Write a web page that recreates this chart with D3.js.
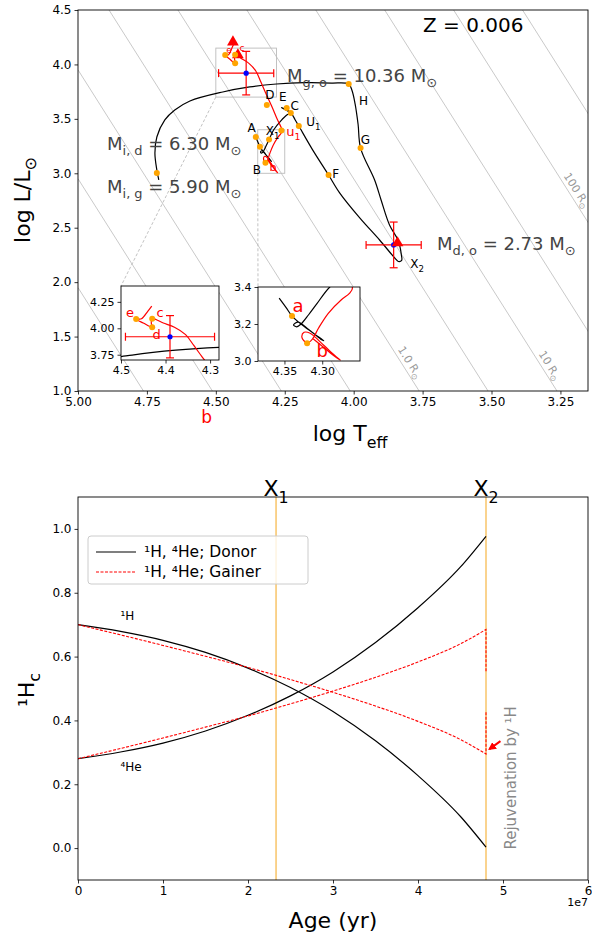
<!DOCTYPE html>
<html>
<head>
<meta charset="utf-8">
<script src="https://cdn.jsdelivr.net/npm/d3@7"></script>
<style>
body { margin: 0; background: #fff; }
svg { font-family: "DejaVu Sans", sans-serif; }
</style>
</head>
<body>
<div id="chart"></div>
<script>

// ---------------- HR diagram data ----------------
// donor track (black), log Teff / log L
const donorLogT = [4.357,4.348,4.340,4.325,4.310,4.298,4.302,4.318,4.332,4.338,4.334,4.328,4.318,4.307,4.290,4.265,4.240,4.228,4.250,4.262,4.226,4.212,4.199,4.150,4.091,4.051,3.978,3.906,3.851,3.838,3.826,3.827,3.838,3.870,3.900,3.924,3.975,3.984,3.995,4.006,4.018,4.080,4.180,4.280,4.377,4.475,4.594,4.649,4.685,4.714,4.721,4.714,4.707];
const donorLogL = [3.340,3.290,3.243,3.190,3.145,3.110,3.118,3.170,3.210,3.195,3.185,3.200,3.250,3.310,3.400,3.480,3.540,3.554,3.592,3.603,3.548,3.490,3.434,3.220,2.984,2.820,2.590,2.387,2.222,2.190,2.200,2.250,2.380,2.525,2.750,2.938,3.232,3.450,3.640,3.760,3.820,3.829,3.832,3.820,3.793,3.747,3.664,3.581,3.490,3.333,3.186,3.030,2.940];

// gainer track (red)
const gainerLogT = [4.313,4.300,4.285,4.276,4.282,4.298,4.316,4.324,4.327,4.322,4.320,4.313,4.305,4.292,4.275,4.264,4.260,4.278,4.298,4.318,4.337,4.355,4.380,4.405,4.430,4.432,4.430,4.450,4.466,4.454,4.440,4.431];
const gainerLogL = [3.123,3.080,3.030,3.005,3.025,3.085,3.150,3.155,3.130,3.100,3.096,3.118,3.177,3.258,3.330,3.365,3.395,3.500,3.620,3.730,3.840,3.940,4.010,4.050,4.090,4.050,4.010,4.050,4.087,4.090,4.160,4.210];

// orange points on the tracks (main panel)
const pointLogT = [4.355,4.340,4.307,4.315,4.243,4.228,4.199,4.091,3.975,4.018,4.714,4.262,4.320,4.430,4.430,4.466];
const pointLogL = [3.333,3.243,3.310,3.627,3.600,3.554,3.434,2.984,3.232,3.820,3.003,3.393,3.096,4.090,4.010,4.087];
// the few of them repeated in the zoom panels
const insetPointLogT = [4.340, 4.320, 4.430, 4.430, 4.466];
const insetPointLogL = [3.243, 3.096, 4.090, 4.010, 4.087];

// observations (blue) with errors, model positions (red triangles)
const obsLogT = [4.390, 3.855];
const obsLogL = [3.920, 2.342];
const obsErrT = [0.10, 0.10];
const obsErrL = [0.20, 0.21];
const modelLogT = [4.438, 4.420, 3.841];
const modelLogL = [4.206, 4.087, 2.360];

// constant radius lines, log R/Rsun
const radiusLogR = [-2, -1.5, -1, -0.5, 0, 0.5, 1, 1.5, 2, 2.5];
const radiusLabelLogR = [0, 1, 2];
const radiusLabelLogT = [3.819, 3.312, 3.214];
const radiusLabelText = ['1.0 R', '10 R', '100 R'];

const hrTicksX = [5.00, 4.75, 4.50, 4.25, 4.00, 3.75, 3.50, 3.25];
const hrTicksY = [1.0, 1.5, 2.0, 2.5, 3.0, 3.5, 4.0, 4.5];

// labels of points (main panel)
const blackLabels = [['A',4.370,3.416],['X','1',4.301,3.389],['B',4.351,3.030],['D',4.304,3.710],['E',4.257,3.692],['C',4.214,3.609],['U','1',4.154,3.471],['F',4.065,2.993],['G',3.957,3.297],['H',3.964,3.655],['X','2',3.777,2.167]];

// ---------------- abundance data ----------------
const ageYr = [0, 5e6, 1e7, 1.5e7, 2e7, 2.5e7, 3e7, 3.5e7, 4e7, 4.5e7, 4.8e7];
const donorH  = [0.700,0.679,0.651,0.613,0.564,0.503,0.428,0.336,0.227,0.099,0.003];
const donorHe = [0.280,0.301,0.329,0.367,0.416,0.477,0.552,0.644,0.753,0.881,0.977];
const gainerH  = [0.700,0.668,0.635,0.601,0.566,0.528,0.488,0.445,0.397,0.340,0.295];
const gainerHe = [0.280,0.312,0.345,0.379,0.414,0.452,0.492,0.535,0.583,0.640,0.685];
// gainer after the rejuvenation at X2
const rejuvH = 0.430;
const rejuvHe = 0.550;
const eventAgeYr = [2.33e7, 4.8e7];
const eventSub = ['1', '2'];
const ageTicks = [0, 1e7, 2e7, 3e7, 4e7, 5e7, 6e7];
const abTicks = [0.0, 0.2, 0.4, 0.6, 0.8, 1.0];


function createSVG(containerId, width, height) {
    try {
        return d3.select(containerId).append('svg')
            .attr('width', width).attr('height', height)
            .attr('viewBox', '0 0 ' + width + ' ' + height);
    } catch (error) {
        console.log('createSVG. Error: ' + error);
        return null;
    }
}

function zip(xs, ys) { return xs.map((x, i) => [x, ys[i]]); }

function addClip(svg, id, x0, y0, w, h) {
    svg.append('clipPath').attr('id', id)
        .append('rect').attr('x', x0).attr('y', y0).attr('width', w).attr('height', h);
}

function drawAxes(g, xs, ys, ticksX, ticksY, fmtX, fmtY, fontSize) {
    let [x0, x1] = xs.range();
    let [y0, y1] = ys.range();
    let ax = g.append('g').attr('transform', 'translate(0,' + y0 + ')')
        .call(d3.axisBottom(xs).tickValues(ticksX).tickFormat(fmtX).tickSize(3.5).tickPadding(3));
    let ay = g.append('g').attr('transform', 'translate(' + x0 + ',0)')
        .call(d3.axisLeft(ys).tickValues(ticksY).tickFormat(fmtY).tickSize(3.5).tickPadding(3));
    [ax, ay].forEach(a => {
        a.select('.domain').remove();
        a.attr('font-family', 'DejaVu Sans').attr('font-size', fontSize);
        a.selectAll('line').attr('stroke', '#000').attr('stroke-width', 0.8);
        a.selectAll('text').attr('fill', '#000');
    });
    g.append('rect').attr('x', Math.min(x0, x1)).attr('y', Math.min(y0, y1))
        .attr('width', Math.abs(x1 - x0)).attr('height', Math.abs(y1 - y0))
        .attr('fill', 'none').attr('stroke', '#000').attr('stroke-width', 0.9);
}

function subText(g, x, y, parts, size, color, anchor) {
    // parts: [text, isSub]
    let t = g.append('text').attr('x', x).attr('y', y).attr('font-size', size)
        .attr('fill', color).attr('text-anchor', anchor || 'start');
    let shift = 0;
    parts.forEach(p => {
        let dy = p[1] ? size * 0.3 - shift : -shift;
        shift = p[1] ? size * 0.3 : 0;
        t.append('tspan').attr('dy', dy).attr('font-size', p[1] ? size * 0.72 : size).text(p[0]);
    });
    return t;
}

function drawTracks(g, xs, ys, clipId) {
    let line = d3.line().curve(d3.curveCatmullRom.alpha(0.5)).x(d => xs(d[0])).y(d => ys(d[1]));
    let tg = g.append('g').attr('clip-path', 'url(#' + clipId + ')');
    tg.append('path').attr('d', line(zip(donorLogT, donorLogL)))
        .attr('fill', 'none').attr('stroke', '#000').attr('stroke-width', 1.2);
    tg.append('path').attr('d', line(zip(gainerLogT, gainerLogL)))
        .attr('fill', 'none').attr('stroke', '#ff0000').attr('stroke-width', 1.2);
    return tg;
}

function drawErrorBars(g, xs, ys, idx, cap) {
    idx.forEach(i => {
        let cx = xs(obsLogT[i]), cy = ys(obsLogL[i]);
        let xa = xs(obsLogT[i] + obsErrT[i]), xb = xs(obsLogT[i] - obsErrT[i]);
        let ya = ys(obsLogL[i] + obsErrL[i]), yb = ys(obsLogL[i] - obsErrL[i]);
        let e = g.append('g').attr('stroke', '#ff0000').attr('stroke-width', 1.2);
        e.append('line').attr('x1', xa).attr('x2', xb).attr('y1', cy).attr('y2', cy);
        e.append('line').attr('x1', cx).attr('x2', cx).attr('y1', ya).attr('y2', yb);
        e.append('line').attr('x1', xa).attr('x2', xa).attr('y1', cy - cap).attr('y2', cy + cap);
        e.append('line').attr('x1', xb).attr('x2', xb).attr('y1', cy - cap).attr('y2', cy + cap);
        e.append('line').attr('x1', cx - cap).attr('x2', cx + cap).attr('y1', ya).attr('y2', ya);
        e.append('line').attr('x1', cx - cap).attr('x2', cx + cap).attr('y1', yb).attr('y2', yb);
        g.append('circle').attr('cx', cx).attr('cy', cy).attr('r', 2.6).attr('fill', '#0000ff');
    });
}

function drawPoints(g, xs, ys, r, tx, ty) {
    g.selectAll(null).data(zip(tx, ty)).enter().append('circle')
        .attr('cx', d => xs(d[0])).attr('cy', d => ys(d[1])).attr('r', r).attr('fill', '#ffa500');
}

function drawHR(svg) {
    try {
        let xs = d3.scaleLinear().domain([5.0, 3.15]).range([78, 588]);
        let ys = d3.scaleLinear().domain([1.0, 4.5]).range([391, 10]);
        addClip(svg, 'hrClip', 78, 10, 510, 381);
        let g = svg.append('g');

        // constant radius lines: log L = 2 log R + 4 log Teff - 14.05
        let rl = g.append('g').attr('clip-path', 'url(#hrClip)');
        radiusLogR.forEach(r => {
            rl.append('line')
                .attr('x1', xs(5.0)).attr('y1', ys(2 * r + 4 * 5.0 - 14.05))
                .attr('x2', xs(3.0)).attr('y2', ys(2 * r + 4 * 3.0 - 14.05))
                .attr('stroke', '#bbbbbb').attr('stroke-width', 0.8);
        });
        let ang = Math.atan2(ys(0) - ys(4), xs(0) - xs(1)) * 180 / Math.PI;
        radiusLabelLogR.forEach((r, i) => {
            let t = radiusLabelLogT[i];
            let px = xs(t), py = ys(2 * r + 4 * t - 14.05);
            let lab = rl.append('text').attr('transform', 'translate(' + px + ',' + py + ') rotate(' + ang + ')')
                .attr('y', -4).attr('text-anchor', 'middle').attr('font-size', 11).attr('fill', '#999');
            lab.append('tspan').text(radiusLabelText[i]);
            lab.append('tspan').attr('dy', 3).attr('font-size', 8).text('\u2299');
        });

        // zoom boxes and connectors
        let bx = g.append('g').attr('fill', 'none').attr('stroke', '#bbbbbb').attr('stroke-width', 0.9);
        bx.append('rect').attr('x', xs(4.50)).attr('y', ys(4.15))
            .attr('width', xs(4.28) - xs(4.50)).attr('height', ys(3.70) - ys(4.15));
        bx.append('rect').attr('x', xs(4.348)).attr('y', ys(3.40))
            .attr('width', xs(4.25) - xs(4.348)).attr('height', ys(3.00) - ys(3.40));
        bx.append('line').attr('x1', xs(4.50)).attr('y1', ys(3.70)).attr('x2', 121).attr('y2', 286)
            .attr('stroke-dasharray', '3,2');
        bx.append('line').attr('x1', xs(4.348)).attr('y1', ys(3.00)).attr('x2', 258).attr('y2', 287)
            .attr('stroke-dasharray', '3,2');

        drawTracks(g, xs, ys, 'hrClip');
        drawErrorBars(g, xs, ys, [0, 1], 4);
        let tri = d3.symbol().type(d3.symbolTriangle).size(60);
        g.selectAll(null).data(zip(modelLogT, modelLogL)).enter().append('path')
            .attr('d', tri).attr('transform', d => 'translate(' + xs(d[0]) + ',' + ys(d[1]) + ')')
            .attr('fill', '#ff0000');
        drawPoints(g, xs, ys, 3, pointLogT, pointLogL);

        blackLabels.forEach(l => {
            if (l.length === 3) {
                g.append('text').attr('x', xs(l[1])).attr('y', ys(l[2])).attr('text-anchor', 'middle')
                    .attr('dominant-baseline', 'middle').attr('font-size', 12).text(l[0]);
            } else {
                subText(g, xs(l[2]) - 5, ys(l[3]) + 4, [[l[0], false], [l[1], true]], 12, '#000');
            }
        });
        subText(g, xs(4.245), ys(3.389) + 5, [['u', false], ['1', true]], 13, '#ff0000');
        g.append('text').attr('x', xs(4.293)).attr('y', ys(3.049)).attr('font-size', 11)
            .attr('fill', '#ff0000').attr('text-anchor', 'middle').attr('dominant-baseline', 'middle').text('b');
        [['e', 4.452, 4.130], ['c', 4.405, 4.150]].forEach(l => {
            g.append('text').attr('x', xs(l[1])).attr('y', ys(l[2])).attr('font-size', 9)
                .attr('fill', '#ff0000').attr('text-anchor', 'middle').attr('dominant-baseline', 'middle').text(l[0]);
        });
        g.append('text').attr('x', xs(4.533)).attr('y', ys(0.752)).attr('font-size', 17)
            .attr('fill', '#ff0000').attr('text-anchor', 'middle').attr('dominant-baseline', 'middle').text('b');

        // mass annotations
        subText(g, 107, 150, [['M', false], ['i, d', true], [' = 6.30 M', false], ['\u2299', true]], 18, '#444');
        subText(g, 107, 193, [['M', false], ['i, g', true], [' = 5.90 M', false], ['\u2299', true]], 18, '#444');
        subText(g, 287, 82, [['M', false], ['g, o', true], [' = 10.36 M', false], ['\u2299', true]], 18, '#444');
        subText(g, 437, 250, [['M', false], ['d, o', true], [' = 2.73 M', false], ['\u2299', true]], 18, '#444');
        g.append('text').attr('x', 423).attr('y', 32).attr('font-size', 20).text('Z = 0.006');

        drawAxes(g, xs, ys, hrTicksX, hrTicksY, d3.format('.2f'), d3.format('.1f'), 12);

        // axis titles
        subText(g, 350, 441, [['log T', false], ['eff', true]], 22, '#000', 'middle');
        let yl = g.append('text').attr('transform', 'translate(30,200) rotate(-90)')
            .attr('text-anchor', 'middle').attr('font-size', 22);
        yl.append('tspan').text('log L/L');
        yl.append('tspan').attr('dy', 6).attr('font-size', 16).text('\u2299');

        drawInsetA(svg);
        drawInsetB(svg);
    } catch (error) {
        console.log('drawHR. Error: ' + error);
    }
}

function drawInsetA(svg) {
    let xs = d3.scaleLinear().domain([4.5, 4.28]).range([121, 219]);
    let ys = d3.scaleLinear().domain([3.70, 4.40]).range([360, 286]);
    addClip(svg, 'insAClip', 121, 286, 98, 74);
    let g = svg.append('g');
    g.append('rect').attr('x', 121).attr('y', 286).attr('width', 98).attr('height', 74).attr('fill', '#fff');
    drawTracks(g, xs, ys, 'insAClip');
    let c = g.append('g').attr('clip-path', 'url(#insAClip)');
    drawErrorBars(c, xs, ys, [0], 4);
    drawPoints(c, xs, ys, 3, insetPointLogT, insetPointLogL);
    [['e', 4.480, 4.142], ['c', 4.412, 4.144], ['d', 4.420, 3.936]].forEach(l => {
        g.append('text').attr('x', xs(l[1])).attr('y', ys(l[2])).attr('text-anchor', 'middle')
            .attr('dominant-baseline', 'middle').attr('font-size', 13).attr('fill', '#ff0000').text(l[0]);
    });
    drawAxes(g, xs, ys, [4.5, 4.4, 4.3], [3.75, 4.00, 4.25], d3.format('.1f'), d3.format('.2f'), 11);
}

function drawInsetB(svg) {
    let xs = d3.scaleLinear().domain([4.385, 4.25]).range([258, 360]);
    let ys = d3.scaleLinear().domain([3.0, 3.4]).range([361, 287]);
    addClip(svg, 'insBClip', 258, 287, 102, 74);
    let g = svg.append('g');
    g.append('rect').attr('x', 258).attr('y', 287).attr('width', 102).attr('height', 74).attr('fill', '#fff');
    drawTracks(g, xs, ys, 'insBClip');
    let c = g.append('g').attr('clip-path', 'url(#insBClip)');
    drawPoints(c, xs, ys, 3, insetPointLogT, insetPointLogL);
    [['a', 4.332, 3.292], ['b', 4.300, 3.049]].forEach(l => {
        g.append('text').attr('x', xs(l[1])).attr('y', ys(l[2])).attr('text-anchor', 'middle')
            .attr('dominant-baseline', 'middle').attr('font-size', 18).attr('fill', '#ff0000').text(l[0]);
    });
    drawAxes(g, xs, ys, [4.35, 4.30], [3.0, 3.2, 3.4], d3.format('.2f'), d3.format('.1f'), 11);
}

function drawAbundance(svg) {
    try {
        let xs = d3.scaleLinear().domain([0, 6e7]).range([78, 588]);
        let ys = d3.scaleLinear().domain([-0.1, 1.1]).range([880, 497]);
        addClip(svg, 'abClip', 78, 497, 510, 383);
        let g = svg.append('g');
        let c = g.append('g').attr('clip-path', 'url(#abClip)');

        eventAgeYr.forEach((t, i) => {
            c.append('line').attr('x1', xs(t)).attr('x2', xs(t)).attr('y1', 497).attr('y2', 880)
                .attr('stroke', '#f8c468').attr('stroke-width', 1.5);
            subText(g, xs(t), 496, [['X', false], [eventSub[i], true]], 22, '#000', 'middle');
        });

        let line = d3.line().curve(d3.curveMonotoneX).x(d => xs(d[0])).y(d => ys(d[1]));
        [donorH, donorHe].forEach(v => {
            c.append('path').attr('d', line(zip(ageYr, v))).attr('fill', 'none')
                .attr('stroke', '#000').attr('stroke-width', 1.2);
        });
        let tEnd = ageYr[ageYr.length - 1];
        [[gainerH, rejuvH], [gainerHe, rejuvHe]].forEach(p => {
            let v = p[0];
            let d = line(zip(ageYr, v)) + 'L' + xs(tEnd) + ',' + ys(p[1]);
            c.append('path').attr('d', d).attr('fill', 'none')
                .attr('stroke', '#ff0000').attr('stroke-width', 1.1).attr('stroke-dasharray', '3,1.5');
        });

        g.append('text').attr('x', xs(5e6)).attr('y', ys(0.715)).attr('font-size', 12).text('\u00b9H');
        g.append('text').attr('x', xs(5e6)).attr('y', ys(0.24)).attr('font-size', 12).text('\u2074He');

        // rejuvenation arrow + note
        let defs = svg.append('defs');
        defs.append('marker').attr('id', 'arrowHead').attr('viewBox', '0 0 10 10').attr('refX', 8).attr('refY', 5)
            .attr('markerWidth', 4).attr('markerHeight', 4).attr('orient', 'auto')
            .append('path').attr('d', 'M0,0 L10,5 L0,10 z').attr('fill', '#ff0000');
        g.append('line').attr('x1', xs(4.97e7)).attr('y1', ys(0.335)).attr('x2', xs(4.84e7)).attr('y2', ys(0.31))
            .attr('stroke', '#ff0000').attr('stroke-width', 2).attr('marker-end', 'url(#arrowHead)');
        g.append('text').attr('transform', 'translate(' + (xs(5.1e7) + 4) + ',' + ys(0.22) + ') rotate(-90)')
            .attr('text-anchor', 'middle').attr('font-size', 15).attr('fill', '#888')
            .text('Rejuvenation by \u00b9H');

        // legend
        let lg = g.append('g');
        lg.append('rect').attr('x', 88).attr('y', 536).attr('width', 220).attr('height', 48).attr('rx', 3)
            .attr('fill', '#fff').attr('fill-opacity', 0.8).attr('stroke', '#cccccc');
        lg.append('line').attr('x1', 96).attr('x2', 136).attr('y1', 552).attr('y2', 552)
            .attr('stroke', '#000').attr('stroke-width', 1.2);
        lg.append('line').attr('x1', 96).attr('x2', 136).attr('y1', 572).attr('y2', 572)
            .attr('stroke', '#ff0000').attr('stroke-width', 1.1).attr('stroke-dasharray', '3,1.5');
        lg.append('text').attr('x', 144).attr('y', 552).attr('dominant-baseline', 'central')
            .attr('font-size', 15.5).text('\u00b9H, \u2074He; Donor');
        lg.append('text').attr('x', 144).attr('y', 572).attr('dominant-baseline', 'central')
            .attr('font-size', 15.5).text('\u00b9H, \u2074He; Gainer');

        drawAxes(g, xs, ys, ageTicks, abTicks, d => d3.format('d')(d / 1e7), d3.format('.1f'), 12);
        g.append('text').attr('x', 588).attr('y', 906).attr('text-anchor', 'end').attr('font-size', 11).text('1e7');
        g.append('text').attr('x', 333).attr('y', 928).attr('text-anchor', 'middle').attr('font-size', 22).text('Age (yr)');
        let yl = g.append('text').attr('transform', 'translate(34,690) rotate(-90)')
            .attr('text-anchor', 'middle').attr('font-size', 22);
        yl.append('tspan').text('\u00b9H');
        yl.append('tspan').attr('dy', 6).attr('font-size', 16).text('c');
    } catch (error) {
        console.log('drawAbundance. Error: ' + error);
    }
}

let svg = createSVG('#chart', 592, 940);
drawHR(svg);
drawAbundance(svg);

</script>
</body>
</html>
